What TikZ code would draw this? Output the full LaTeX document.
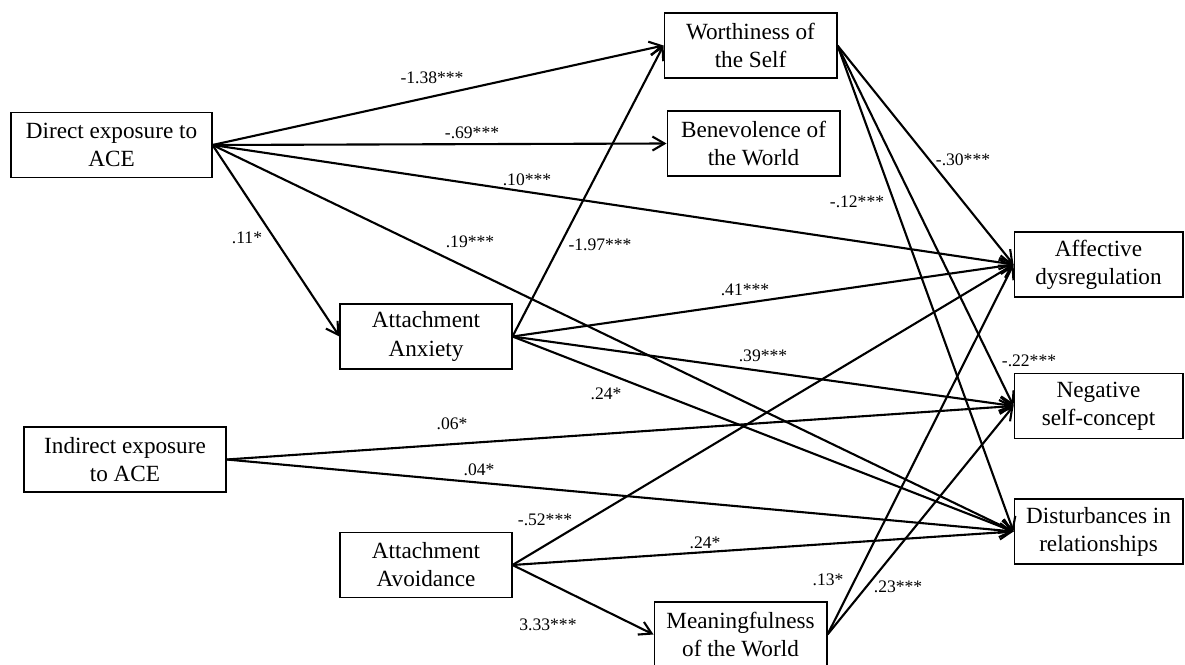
\documentclass[tikz,border=0pt]{standalone}
\usepackage{fontspec}
\setmainfont{Liberation Serif}
\usepackage{tikz}
\usetikzlibrary{arrows.meta}

\begin{document}
\begin{tikzpicture}[x=0.02cm,y=-0.02cm,
	box/.style={draw,line width=0.6pt,inner sep=0pt,align=center,minimum height=1.3cm,
		font=\fontsize{13.2}{16}\selectfont},
	path/.style={->,line width=1.2pt,>={Straight Barb[length=2.4mm,width=2.8mm]}},
	coef/.style={font=\fontsize{10}{12}\selectfont,inner sep=0pt}]
	\useasboundingbox (0,0) rectangle (1185,665);
	\node[box,minimum width=4.02cm] (dir) at (111.5,145) {Direct exposure to\\ACE};
	\node[box,minimum width=4.04cm] (ind) at (125,459.5) {Indirect exposure\\to ACE};
	\node[box,minimum width=3.44cm] (anx) at (426,336.5) {Attachment\\Anxiety};
	\node[box,minimum width=3.44cm] (avo) at (426,565) {Attachment\\Avoidance};
	\node[box,minimum width=3.46cm] (wos) at (750.5,45.5) {Worthiness of\\the Self};
	\node[box,minimum width=3.46cm] (bow) at (753.5,143.5) {Benevolence of\\the World};
	\node[box,minimum width=3.46cm] (mow) at (740.5,634.5) {Meaningfulness\\of the World};
	\node[box,minimum width=3.38cm] (aff) at (1098.5,264.5) {Affective\\dysregulation};
	\node[box,minimum width=3.38cm] (neg) at (1098.5,406) {Negative\\self-concept};
	\node[box,minimum width=3.38cm] (dis) at (1098.5,531.5) {Disturbances in\\relationships};

	\draw[path] (dir.east) -- (wos.west);
	\draw[path] (dir.east) -- (bow.west);
	\draw[path] (dir.east) -- (aff.west);
	\draw[path] (dir.east) -- (dis.west);
	\draw[path] (dir.east) -- (anx.west);
	\draw[path] (anx.east) -- (wos.west);
	\draw[path] (anx.east) -- (aff.west);
	\draw[path] (anx.east) -- (neg.west);
	\draw[path] (anx.east) -- (dis.west);
	\draw[path] (ind.east) -- (neg.west);
	\draw[path] (ind.east) -- (dis.west);
	\draw[path] (avo.east) -- (aff.west);
	\draw[path] (avo.east) -- (dis.west);
	\draw[path] (avo.east) -- (mow.west);
	\draw[path] (wos.east) -- (aff.west);
	\draw[path] (wos.east) -- (neg.west);
	\draw[path] (wos.east) -- (dis.west);
	\draw[path] (mow.east) -- (aff.west);
	\draw[path] (mow.east) -- (neg.west);

	\node[coef] (c1) at (432,78) {-1.38***};
	\node[coef] (c2) at (472,133) {-.69***};
	\node[coef] (c3) at (527,180) {.10***};
	\node[coef] (c4) at (470,242) {.19***};
	\node[coef] (c5) at (247,238) {.11*};
	\node[coef] (c6) at (600,245) {-1.97***};
	\node[coef] (c7) at (963,160) {-.30***};
	\node[coef] (c8) at (857,202) {-.12***};
	\node[coef] (c9) at (745,290) {.41***};
	\node[coef] (c10) at (763,356) {.39***};
	\node[coef] (c11) at (606,394) {.24*};
	\node[coef] (c12) at (1029,361) {-.22***};
	\node[coef] (c13) at (452,424) {.06*};
	\node[coef] (c14) at (479,470) {.04*};
	\node[coef] (c15) at (545,520) {-.52***};
	\node[coef] (c16) at (705,543) {.24*};
	\node[coef] (c17) at (548,625) {3.33***};
	\node[coef] (c18) at (828,580) {.13*};
	\node[coef] (c19) at (898,587) {.23***};
\end{tikzpicture}
\end{document}
